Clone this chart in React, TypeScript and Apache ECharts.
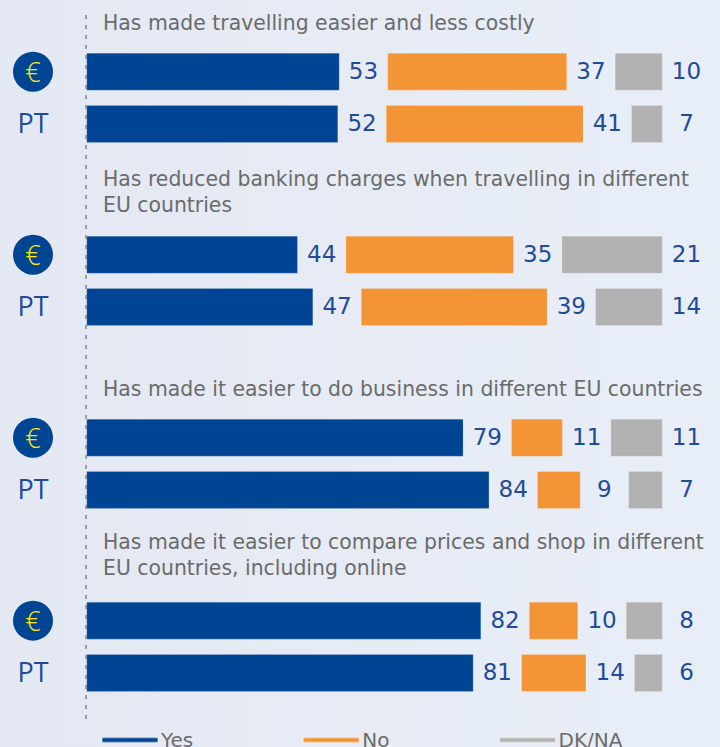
import React, { useEffect, useRef } from "react";
import * as echarts from "echarts";

const categories = ["€", "", "PT", "", "", "", "", "€", "", "PT", "", "", "", "", "€", "", "PT", "", "", "", "", "€", "", "PT"];
const yes = [52.7, null, 52.4, null, null, null, null, 44, null, 47.2, null, null, null, null, 78.5, null, 83.9, null, null, null, null, 82.2, null, 80.6];
const no = [37.4, null, 41.1, null, null, null, null, 35, null, 38.8, null, null, null, null, 10.7, null, 9, null, null, null, null, 10.2, null, 13.5];
const dk = [9.9, null, 6.5, null, null, null, null, 21, null, 14, null, null, null, null, 10.8, null, 7.1, null, null, null, null, 7.6, null, 5.9];
const titles = [
  "Has made travelling easier and less costly",
  "Has reduced banking charges when travelling in different\nEU countries",
  "Has made it easier to do business in different EU countries",
  "Has made it easier to compare prices and shop in different\nEU countries, including online",
];
const titleTops = [10, 166, 376, 529];
const FONT = "'DejaVu Sans', Verdana, sans-serif";
const BLUE_TEXT = "#1f4b99";
const GREY_TEXT = "#6b6b6b";

function spacer(name: string, source: (number | null)[]) {
  return {
    name,
    type: "bar",
    stack: "s",
    barWidth: 37.5,
    clip: false,
    silent: true,
    itemStyle: { color: "transparent" },
    label: {
      show: true,
      position: "inside",
      offset: [0, -1],
      fontFamily: FONT,
      fontSize: 23,
      color: BLUE_TEXT,
      formatter: (p: any) => String(Math.round(source[p.dataIndex] as number)),
    },
    data: source.map((v) => (v === null ? null : 10)),
  };
}

function solid(name: string, data: (number | null)[], color: string) {
  return {
    name,
    type: "bar",
    stack: "s",
    barWidth: 37.5,
    clip: false,
    itemStyle: { color, borderColor: "rgba(255,255,255,0.35)", borderWidth: 0.5 },
    data,
  };
}

export default function App() {
  const ref = useRef<HTMLDivElement>(null);
  useEffect(() => {
    document.body.style.margin = "0";
    const chart = echarts.init(ref.current!, null, { renderer: "svg" });
    chart.setOption({
      animation: false,
      backgroundColor: {
        type: "linear", x: 0, y: 0, x2: 1, y2: 0,
        colorStops: [{ offset: 0, color: "#e4e8f2" }, { offset: 1, color: "#e8eef7" }],
      },
      grid: { left: 86.5, width: 624, top: 58.6, height: 627.4 },
      xAxis: { type: "value", min: 0, max: 130, show: false },
      yAxis: {
        type: "category",
        inverse: true,
        data: categories,
        axisLine: { show: false },
        axisTick: { show: false },
        axisLabel: {
          interval: 0,
          margin: 33.5,
          formatter: (v: string) => (v === "€" ? `{e|€}` : v ? `{p|${v}}` : ""),
          rich: {
            e: {
              width: 40, height: 40, align: "center", borderRadius: 20,
              backgroundColor: "#004494", color: "#ffe900", fontSize: 27, fontWeight: 300,
              fontFamily: "'Open Sans', sans-serif", lineHeight: 40,
            },
            p: {
              width: 40, align: "center", color: BLUE_TEXT, fontSize: 27,
              fontFamily: "'Open Sans', sans-serif", padding: [0, 0, 3, 0],
            },
          },
        },
      },
      legend: {
        data: ["Yes", "No", "DK/NA"],
        left: 96,
        top: 725,
        itemWidth: 56,
        itemHeight: 5,
        itemGap: 109,
        icon: "roundRect",
        selectedMode: false,
        textStyle: { fontFamily: FONT, fontSize: 20, color: GREY_TEXT, padding: [5, 0, 0, -2] },
      },
      graphic: [
        {
          type: "line",
          z: -1,
          shape: { x1: 86, y1: 15, x2: 86, y2: 720 },
          style: { stroke: "#555", lineWidth: 1, lineDash: [4, 6] },
        },
        ...titles.map((t, i) => ({
          type: "text",
          x: 103,
          y: titleTops[i],
          style: { text: t, fontFamily: FONT, fontSize: 20.4, lineHeight: 26, fill: GREY_TEXT },
        })),
      ],
      series: [
        solid("Yes", yes, "#004494"),
        spacer("gap1", yes),
        solid("No", no, "#f39536"),
        spacer("gap2", no),
        solid("DK/NA", dk, "#b2b2b2"),
        spacer("gap3", dk),
      ],
    });
    return () => chart.dispose();
  }, []);
  return <div ref={ref} style={{ width: 720, height: 747 }} />;
}
